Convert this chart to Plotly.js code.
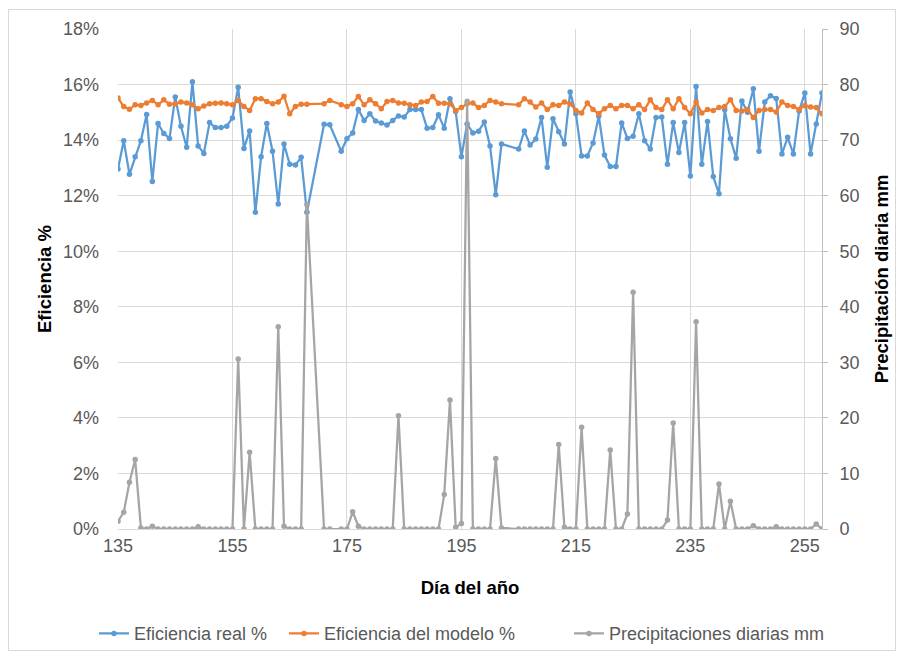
<!DOCTYPE html>
<html><head><meta charset="utf-8">
<script src="https://cdn.plot.ly/plotly-3.0.1.min.js"></script>
<style>
html,body{margin:0;padding:0;background:#fff;}
#wrap{position:relative;width:902px;height:656px;}
#chart{width:902px;height:656px;}
#frame{position:absolute;left:8px;top:9px;width:886px;height:640px;border:1px solid #d9d9d9;pointer-events:none;}
</style>
</head><body>
<div id="wrap"><div id="chart"></div><div id="frame"></div></div>
<script>
const days = [135,136,137,138,139,140,141,142,143,144,145,146,147,148,149,150,151,152,153,154,155,156,157,158,159,160,161,162,163,164,165,166,167,168,
171,172,
174,175,176,177,178,179,180,181,182,183,184,185,186,187,188,189,190,191,192,193,194,195,196,197,198,199,200,201,202,
205,206,207,208,209,210,211,212,213,214,215,216,217,218,219,220,221,222,223,224,225,226,227,228,229,230,231,232,233,234,235,236,237,238,239,240,241,242,243,244,245,246,247,248,249,250,251,252,253,254,255,256,257,258];

const eficienciaReal = [12.96,13.98,12.77,13.40,13.98,14.92,12.51,14.60,14.24,14.06,15.55,14.50,13.74,16.10,13.79,13.52,14.63,14.45,14.45,14.50,14.80,15.90,13.70,14.33,11.40,13.40,14.60,13.60,11.70,13.86,13.13,13.10,13.38,11.40,
14.57,14.55,
13.60,14.05,14.26,15.10,14.71,14.95,14.69,14.62,14.54,14.71,14.87,14.83,15.10,15.10,15.10,14.43,14.45,14.91,14.43,15.49,15.03,13.40,14.58,14.26,14.32,14.65,13.79,12.03,13.86,
13.68,14.33,13.82,14.04,14.81,13.02,14.77,14.30,13.86,15.73,14.95,13.43,13.43,13.90,14.86,13.46,13.05,13.05,14.62,14.06,14.14,14.95,13.98,13.68,14.81,14.83,13.13,14.63,13.55,14.63,12.71,15.93,13.13,14.67,12.69,12.07,15.09,14.05,13.35,15.41,15.00,15.85,13.60,15.37,15.60,15.50,13.50,14.10,13.50,15.05,15.70,13.50,14.58,15.70];

const eficienciaModelo = [15.52,15.21,15.11,15.27,15.25,15.34,15.43,15.27,15.45,15.29,15.31,15.37,15.34,15.27,15.13,15.23,15.31,15.33,15.34,15.31,15.27,15.43,15.21,15.07,15.49,15.49,15.39,15.31,15.37,15.58,14.95,15.21,15.29,15.29,
15.31,15.43,
15.27,15.21,15.31,15.57,15.27,15.45,15.31,15.13,15.39,15.43,15.34,15.33,15.27,15.25,15.37,15.39,15.57,15.33,15.33,15.31,15.07,15.17,15.31,15.34,15.17,15.25,15.43,15.37,15.31,
15.27,15.49,15.37,15.19,15.34,15.10,15.27,15.25,15.37,15.31,15.07,14.98,15.34,15.10,14.95,15.13,15.25,15.13,15.25,15.25,15.13,15.27,15.10,15.45,15.17,15.10,15.45,15.13,15.49,15.17,14.95,15.37,14.98,15.10,15.07,15.17,15.21,15.45,15.07,15.05,15.10,14.81,15.07,15.10,15.10,15.01,15.37,15.25,15.21,15.10,15.25,15.19,15.17,14.95];

const precipitacion = [1.4,3.0,8.4,12.5,0.2,0,0.5,0,0,0,0,0,0,0,0.4,0,0,0,0,0,0,30.6,0,13.8,0,0,0,0,36.4,0.5,0,0,0,58.4,
0,0,
0,0,3.1,0.5,0,0,0,0,0,0,20.4,0,0,0,0,0,0,0,6.2,23.2,0.3,1.0,77.0,0,0,0,0,12.7,0.2,
0,0,0,0,0,0,0,15.2,0.3,0,0,18.3,0,0,0,0,14.2,0,0,2.7,42.6,0,0,0,0,0,1.6,19.1,0,0,0,37.3,0,0,0,8.1,0,5.0,0,0,0,0.6,0,0,0,0.4,0,0,0,0,0,0,0.9,0];

const xTicks = [135,155,175,195,215,235,255];
const FONT = 'Liberation Sans, Arial, sans-serif';
const GRID = '#d9d9d9';
const TXT = '#595959';

const traces = [
  {x: days, y: eficienciaReal, name: 'Eficiencia real %', type: 'scatter', mode: 'lines+markers', legend: 'legend',
   line: {color: '#5B9BD5', width: 2.25}, marker: {color: '#5B9BD5', size: 5.5}},
  {x: days, y: eficienciaModelo, name: 'Eficiencia del modelo %', type: 'scatter', mode: 'lines+markers', legend: 'legend2',
   line: {color: '#ED7D31', width: 2.25}, marker: {color: '#ED7D31', size: 5.5}},
  {x: days, y: precipitacion, name: 'Precipitaciones diarias mm', type: 'scatter', mode: 'lines+markers', yaxis: 'y2', legend: 'legend3',
   line: {color: '#A5A5A5', width: 2.25}, marker: {color: '#A5A5A5', size: 5.5}}
];

function leg(xpx) {
  return {orientation: 'h', x: xpx / 902, xanchor: 'left', xref: 'container',
          y: 0.034, yanchor: 'middle', yref: 'container',
          font: {family: FONT, size: 18, color: TXT}, itemwidth: 30, bgcolor: 'rgba(0,0,0,0)'};
}

const layout = {
  width: 902, height: 656,
  margin: {l: 118, r: 80, t: 29, b: 126.5, autoexpand: false},
  paper_bgcolor: '#ffffff', plot_bgcolor: '#ffffff',
  font: {family: FONT, color: TXT, size: 18},
  showlegend: true,
  legend: leg(94),
  legend2: leg(284),
  legend3: leg(569),
  xaxis: {range: [135, 258], tickvals: xTicks, ticktext: xTicks.map(String),
          showgrid: true, gridcolor: GRID, gridwidth: 1, zeroline: false,
          showline: true, linecolor: GRID, linewidth: 1, ticks: '',
          tickfont: {family: FONT, size: 18, color: TXT},
          title: {text: 'Día del año', font: {family: FONT, size: 18.5, color: '#000', weight: 'bold'}, standoff: 26}},
  yaxis: {range: [0, 18], dtick: 2, tick0: 0, ticksuffix: '%',
          showgrid: true, gridcolor: GRID, gridwidth: 1, zeroline: false,
          showline: false, ticks: '', ticklabelstandoff: 18,
          tickfont: {family: FONT, size: 18, color: TXT},
          title: {text: 'Eficiencia %', font: {family: FONT, size: 18.5, color: '#000', weight: 'bold'}, standoff: 6}},
  yaxis2: {range: [0, 90], dtick: 10, tick0: 0, overlaying: 'y', side: 'right',
           showgrid: false, zeroline: false, showline: true, linecolor: '#bfbfbf', linewidth: 1,
           ticks: 'outside', ticklen: 5, tickcolor: '#bfbfbf', ticklabelstandoff: 8,
           tickfont: {family: FONT, size: 18, color: TXT},
           title: {text: 'Precipitación diaria mm', font: {family: FONT, size: 18.5, color: '#000', weight: 'bold'}, standoff: 16}}
};

Plotly.newPlot('chart', traces, layout, {displayModeBar: false, staticPlot: true});
</script>
</body></html>
